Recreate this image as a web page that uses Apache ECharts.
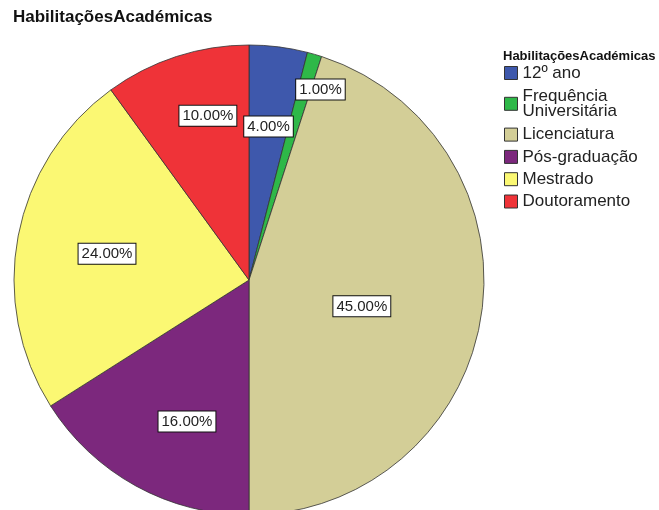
<!DOCTYPE html>
<html>
<head>
<meta charset="utf-8">
<script src="https://cdn.jsdelivr.net/npm/echarts@6/dist/echarts.min.js"></script>
<style>
  html, body { margin: 0; padding: 0; background: #fff; }
  #main { width: 659px; height: 510px; }
</style>
</head>
<body>
<div id="main"></div>
<script>
var categories = ['12º ano', 'Frequência Universitária', 'Licenciatura', 'Pós-graduação', 'Mestrado', 'Doutoramento'];
var percents = [4, 1, 45, 16, 24, 10];

var colors = ['#3E58AC', '#2EB848', '#D3CE97', '#7C287D', '#FBF873', '#EF3338'];
// small label nudges (px) so the boxes sit where SPSS put them
var labelNudge = [[0, 1], [28, -41], [-41, 2], [13, 5], [11, 3], [7, -16]];

var font = 'Arial, "Liberation Sans", sans-serif';
var R = 235;
var chart = echarts.init(document.getElementById('main'));

var pieData = categories.map(function (name, i) {
  return { name: name, value: percents[i], itemStyle: { color: colors[i] } };
});
var labelData = categories.map(function (name, i) {
  return { name: name, value: percents[i], label: { offset: labelNudge[i] } };
});

chart.setOption({
  animation: false,
  title: [{
    text: 'HabilitaçõesAcadémicas',
    left: 13, top: 9,
    padding: 0,
    textStyle: { fontFamily: font, fontSize: 17, fontWeight: 'bold', color: '#111' }
  }, {
    text: 'HabilitaçõesAcadémicas',
    left: 503, top: 50,
    padding: 0,
    textStyle: { fontFamily: font, fontSize: 13, fontWeight: 'bold', color: '#111' }
  }],
  legend: {
    orient: 'vertical',
    left: 504, top: 64.5,
    padding: 0,
    itemWidth: 13, itemHeight: 13,
    itemGap: 5.3,
    icon: 'rect',
    selectedMode: false,
    itemStyle: { borderColor: '#333', borderWidth: 1 },
    textStyle: { fontFamily: font, fontSize: 17, lineHeight: 17, color: '#222' },
    formatter: function (name) {
      return name === 'Frequência Universitária' ? 'Frequência\nUniversitária' : name;
    },
    data: categories.map(function (name) {
      if (name === 'Frequência Universitária') {
        return { name: name, textStyle: { lineHeight: 15.5, padding: [1.5, 0, 1.5, 0] } };
      }
      return name;
    })
  },
  series: [{
    type: 'pie',
    center: [249, 280],
    radius: [0, R],
    startAngle: 90,
    clockwise: true,
    silent: true,
    label: { show: false },
    labelLine: { show: false },
    itemStyle: { borderColor: '#333', borderWidth: 0.8 },
    data: pieData
  }, {
    type: 'pie',
    center: [249, 280],
    radius: [0, R * 1.3],
    startAngle: 90,
    clockwise: true,
    silent: true,
    itemStyle: { color: 'rgba(0,0,0,0)', borderWidth: 0 },
    label: {
      show: true,
      position: 'inside',
      fontFamily: font,
      fontSize: 15,
      color: '#222',
      backgroundColor: '#fff',
      borderColor: '#111',
      borderWidth: 1,
      padding: [3, 3, 2, 3],
      formatter: function (p) { return p.value.toFixed(2) + '%'; }
    },
    labelLine: { show: false },
    data: labelData
  }]
});
</script>
</body>
</html>
